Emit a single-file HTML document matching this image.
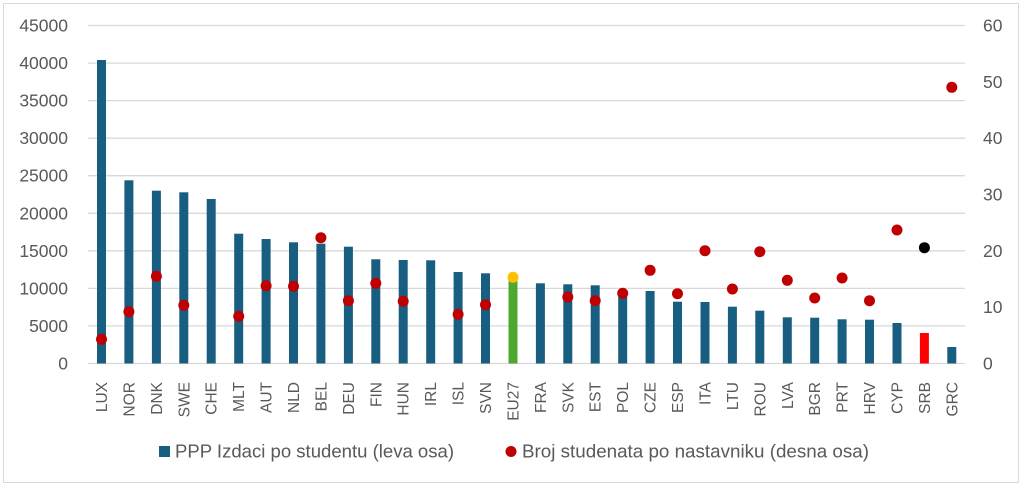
<!DOCTYPE html>
<html><head><meta charset="utf-8"><style>
html,body{margin:0;padding:0;background:#fff;}
svg{display:block;font-family:"Liberation Sans",Arial,sans-serif;}
</style></head><body>
<svg width="1024" height="488" viewBox="0 0 1024 488" xmlns="http://www.w3.org/2000/svg">
<rect x="3.5" y="3.5" width="1015" height="479" fill="#fff" stroke="#d9d9d9" stroke-width="1"/>
<g stroke="#d9d9d9" stroke-width="1.3">
<line x1="88" x2="965" y1="25.5" y2="25.5"/>
<line x1="88" x2="965" y1="63.1" y2="63.1"/>
<line x1="88" x2="965" y1="100.6" y2="100.6"/>
<line x1="88" x2="965" y1="138.2" y2="138.2"/>
<line x1="88" x2="965" y1="175.7" y2="175.7"/>
<line x1="88" x2="965" y1="213.3" y2="213.3"/>
<line x1="88" x2="965" y1="250.8" y2="250.8"/>
<line x1="88" x2="965" y1="288.4" y2="288.4"/>
<line x1="88" x2="965" y1="325.9" y2="325.9"/>
<line x1="88" x2="965" y1="363.5" y2="363.5"/>
</g>
<g fill="#595959" font-size="17.5" text-anchor="end">
<text x="68" y="31.5">45000</text><text x="68" y="69.1">40000</text><text x="68" y="106.6">35000</text><text x="68" y="144.2">30000</text><text x="68" y="181.7">25000</text><text x="68" y="219.3">20000</text><text x="68" y="256.8">15000</text><text x="68" y="294.4">10000</text><text x="68" y="331.9">5000</text><text x="68" y="369.5">0</text>
</g>
<g fill="#595959" font-size="17.5">
<text x="983" y="31.5">60</text><text x="983" y="87.8">50</text><text x="983" y="144.2">40</text><text x="983" y="200.5">30</text><text x="983" y="256.8">20</text><text x="983" y="313.1">10</text><text x="983" y="369.5">0</text>
</g>
<g fill="#185e80">
<rect x="97" y="60" width="9" height="303.5"/>
<rect x="124.4" y="180.3" width="9" height="183.2"/>
<rect x="151.9" y="190.7" width="9" height="172.8"/>
<rect x="179.3" y="192.3" width="9" height="171.2"/>
<rect x="206.7" y="199" width="9" height="164.5"/>
<rect x="234.2" y="233.7" width="9" height="129.8"/>
<rect x="261.6" y="239" width="9" height="124.5"/>
<rect x="289" y="242.3" width="9" height="121.2"/>
<rect x="316.4" y="243.7" width="9" height="119.8"/>
<rect x="343.9" y="246.7" width="9" height="116.8"/>
<rect x="371.3" y="259.3" width="9" height="104.2"/>
<rect x="398.7" y="260" width="9" height="103.5"/>
<rect x="426.2" y="260.3" width="9" height="103.2"/>
<rect x="453.6" y="272" width="9" height="91.5"/>
<rect x="481" y="273.3" width="9" height="90.2"/>
<rect x="535.9" y="283.3" width="9" height="80.2"/>
<rect x="563.3" y="284.3" width="9" height="79.2"/>
<rect x="590.7" y="285.3" width="9" height="78.2"/>
<rect x="618.2" y="290" width="9" height="73.5"/>
<rect x="645.6" y="291" width="9" height="72.5"/>
<rect x="673" y="301.7" width="9" height="61.8"/>
<rect x="700.5" y="302" width="9" height="61.5"/>
<rect x="727.9" y="306.7" width="9" height="56.8"/>
<rect x="755.3" y="310.7" width="9" height="52.8"/>
<rect x="782.8" y="317.3" width="9" height="46.2"/>
<rect x="810.2" y="317.7" width="9" height="45.8"/>
<rect x="837.6" y="319.3" width="9" height="44.2"/>
<rect x="865" y="319.7" width="9" height="43.8"/>
<rect x="892.5" y="323" width="9" height="40.5"/>
<rect x="947.3" y="347" width="9" height="16.5"/>
</g>
<rect x="508.5" y="279" width="9" height="84.5" fill="#4ea72e"/>
<rect x="919.9" y="333" width="9" height="30.5" fill="#ff0000"/>
<g fill="#c00000">
<circle cx="101.5" cy="339.3" r="5.5"/>
<circle cx="128.9" cy="311.7" r="5.5"/>
<circle cx="156.4" cy="276.3" r="5.5"/>
<circle cx="183.8" cy="305.3" r="5.5"/>
<circle cx="238.7" cy="316.3" r="5.5"/>
<circle cx="266.1" cy="285.7" r="5.5"/>
<circle cx="293.5" cy="286.3" r="5.5"/>
<circle cx="320.9" cy="237.7" r="5.5"/>
<circle cx="348.4" cy="300.7" r="5.5"/>
<circle cx="375.8" cy="283.3" r="5.5"/>
<circle cx="403.2" cy="301.3" r="5.5"/>
<circle cx="458.1" cy="314.3" r="5.5"/>
<circle cx="485.5" cy="304.7" r="5.5"/>
<circle cx="567.8" cy="297" r="5.5"/>
<circle cx="595.2" cy="300.7" r="5.5"/>
<circle cx="622.7" cy="293.3" r="5.5"/>
<circle cx="650.1" cy="270.3" r="5.5"/>
<circle cx="677.5" cy="293.7" r="5.5"/>
<circle cx="705" cy="250.7" r="5.5"/>
<circle cx="732.4" cy="289" r="5.5"/>
<circle cx="759.8" cy="251.7" r="5.5"/>
<circle cx="787.3" cy="280.3" r="5.5"/>
<circle cx="814.7" cy="298" r="5.5"/>
<circle cx="842.1" cy="278" r="5.5"/>
<circle cx="869.5" cy="300.7" r="5.5"/>
<circle cx="897" cy="230" r="5.5"/>
<circle cx="951.8" cy="87.3" r="5.5"/>
</g>
<circle cx="513" cy="277.3" r="5.5" fill="#ffc000"/>
<circle cx="924.4" cy="247.7" r="5.5" fill="#000"/>
<g fill="#595959" font-size="15.5" text-anchor="end">
<text transform="translate(107,382) rotate(-90)">LUX</text>
<text transform="translate(134.4,382) rotate(-90)">NOR</text>
<text transform="translate(161.9,382) rotate(-90)">DNK</text>
<text transform="translate(189.3,382) rotate(-90)">SWE</text>
<text transform="translate(216.7,382) rotate(-90)">CHE</text>
<text transform="translate(244.2,382) rotate(-90)">MLT</text>
<text transform="translate(271.6,382) rotate(-90)">AUT</text>
<text transform="translate(299,382) rotate(-90)">NLD</text>
<text transform="translate(326.4,382) rotate(-90)">BEL</text>
<text transform="translate(353.9,382) rotate(-90)">DEU</text>
<text transform="translate(381.3,382) rotate(-90)">FIN</text>
<text transform="translate(408.7,382) rotate(-90)">HUN</text>
<text transform="translate(436.2,382) rotate(-90)">IRL</text>
<text transform="translate(463.6,382) rotate(-90)">ISL</text>
<text transform="translate(491,382) rotate(-90)">SVN</text>
<text transform="translate(518.5,382) rotate(-90)">EU27</text>
<text transform="translate(545.9,382) rotate(-90)">FRA</text>
<text transform="translate(573.3,382) rotate(-90)">SVK</text>
<text transform="translate(600.7,382) rotate(-90)">EST</text>
<text transform="translate(628.2,382) rotate(-90)">POL</text>
<text transform="translate(655.6,382) rotate(-90)">CZE</text>
<text transform="translate(683,382) rotate(-90)">ESP</text>
<text transform="translate(710.5,382) rotate(-90)">ITA</text>
<text transform="translate(737.9,382) rotate(-90)">LTU</text>
<text transform="translate(765.3,382) rotate(-90)">ROU</text>
<text transform="translate(792.8,382) rotate(-90)">LVA</text>
<text transform="translate(820.2,382) rotate(-90)">BGR</text>
<text transform="translate(847.6,382) rotate(-90)">PRT</text>
<text transform="translate(875,382) rotate(-90)">HRV</text>
<text transform="translate(902.5,382) rotate(-90)">CYP</text>
<text transform="translate(929.9,382) rotate(-90)">SRB</text>
<text transform="translate(957.3,382) rotate(-90)">GRC</text>
</g>
<rect x="159" y="446" width="11" height="11" fill="#185e80"/>
<text x="175" y="457.5" fill="#595959" font-size="18" textLength="279" lengthAdjust="spacingAndGlyphs">PPP Izdaci po studentu (leva osa)</text>
<circle cx="511" cy="451.5" r="5.5" fill="#c00000"/>
<text x="522" y="457.5" fill="#595959" font-size="18" textLength="347" lengthAdjust="spacingAndGlyphs">Broj studenata po nastavniku (desna osa)</text>
</svg>
</body></html>
